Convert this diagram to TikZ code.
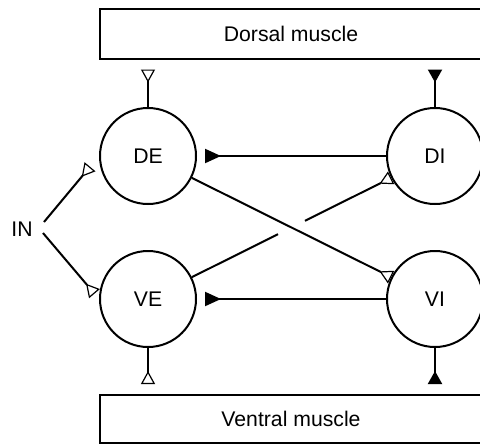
\documentclass[tikz,border=0pt]{standalone}
\usepackage{fontspec}
\setmainfont{Liberation Sans}
\usetikzlibrary{arrows.meta,calc}

\begin{document}
\begin{tikzpicture}[x=0.5pt, y=-0.5pt,
    line width=1pt,
    font=\fontsize{10.6}{12.5}\selectfont,
    neuron/.style={draw, circle, minimum size=48pt, inner sep=0pt},
    muscle/.style={draw, rectangle, minimum width=191pt, inner sep=0pt},
    exc/.style={-{Triangle[reversed, open, length=6.5pt, width=7pt, line width=0.6pt]}},
    inh/.style={-{Triangle[reversed, length=6.5pt, width=7pt]}},
    inhwide/.style={-{Triangle[reversed, length=8pt, width=7pt]}}]
  \useasboundingbox (0,0) rectangle (480,445);
  \clip (0,0) rectangle (480,445);

  % muscles
  \node[muscle, minimum height=25pt] (dorsal) at (291,34) {Dorsal muscle};
  \node[muscle, minimum height=24pt] (ventral) at (291,419) {Ventral muscle};

  % motor neurons
  \node[neuron] (DE) at (148,156) {DE};
  \node[neuron] (DI) at (435,156) {DI};
  \node[neuron] (VE) at (148,299) {VE};
  \node[neuron] (VI) at (435,299) {VI};

  % input
  \node[inner sep=0pt] (IN) at (22,229) {IN};
  \coordinate (in-d) at (44,222);
  \coordinate (in-v) at (43,233);

  % neuromuscular synapses
  \draw[exc, shorten >=4.75pt] (DE.north) -- (DE.north |- dorsal.south);
  \draw[inh, shorten >=4.75pt] (DI.north) -- (DI.north |- dorsal.south);
  \draw[exc, shorten >=5pt] (VE.south) -- (VE.south |- ventral.north);
  \draw[inh, shorten >=5pt] (VI.south) -- (VI.south |- ventral.north);

  % inhibitory cross connections
  \draw[inhwide, shorten >=4pt] (DI) -- (DE);
  \draw[inhwide, shorten >=4pt] (VI) -- (VE);

  % input to excitors
  \draw[exc, shorten >=7pt] (in-d) -- (DE.west);
  \draw[exc, shorten >=3.5pt] (in-v) -- (VE.west);

  % excitors to inhibitors
  \draw[exc] (DE) -- (VI);
  \draw (VE) -- ($(VE)!0.453!(DI)$);
  \draw[exc] ($(VE)!0.547!(DI)$) -- (DI);
\end{tikzpicture}
\end{document}
